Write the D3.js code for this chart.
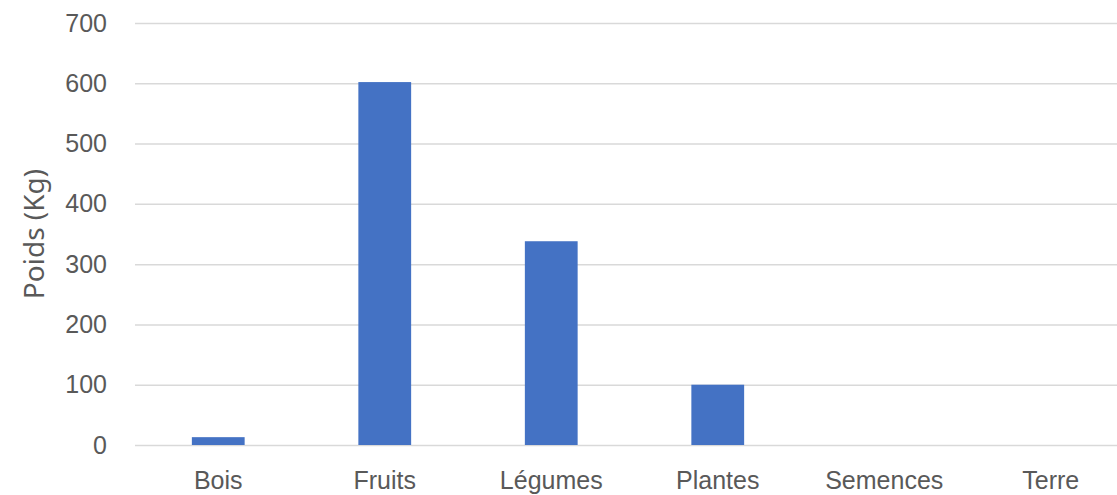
<!DOCTYPE html>
<html>
<head>
<meta charset="utf-8">
<script src="https://cdn.jsdelivr.net/npm/d3@7"></script>
<style>
  body { margin: 0; background: #fff; }
  svg { display: block; font-family: "Noto Sans", "Open Sans", sans-serif; }
</style>
</head>
<body>
<svg id="chart" width="1117" height="495"></svg>
<script>
const categories = ["Bois", "Fruits", "Légumes", "Plantes", "Semences", "Terre"];
const weights = [13, 602, 338, 100, 0, 0];
const yTicks = [0, 100, 200, 300, 400, 500, 600, 700];
const yLabel = "Poids (Kg)";

const svg = d3.select("#chart");
const width = 1117, height = 495;
const margin = { top: 23, right: -17, bottom: 50, left: 135 };

const x = d3.scaleBand()
  .domain(categories)
  .range([margin.left, width - margin.right])
  .paddingInner(0.683)
  .paddingOuter(0.3415);

const y = d3.scaleLinear()
  .domain([0, 700])
  .range([height - margin.bottom, margin.top]);

// gridlines
svg.append("g")
  .attr("transform", `translate(${margin.left},0)`)
  .call(d3.axisLeft(y).tickValues(yTicks).tickSize(-(width - margin.left)).tickFormat(""))
  .call(g => g.select(".domain").remove())
  .call(g => g.selectAll(".tick line").attr("stroke", "#d9d9d9").attr("stroke-width", 1.5));

// y tick labels
svg.append("g")
  .attr("transform", `translate(${margin.left},0)`)
  .call(d3.axisLeft(y).tickValues(yTicks).tickSize(0).tickPadding(28))
  .call(g => g.select(".domain").remove())
  .call(g => g.selectAll(".tick text")
    .attr("fill", "#595959")
    .style("font-size", "25px"));

// bars
svg.append("g")
  .attr("fill", "#4472c4")
  .selectAll("rect")
  .data(categories.map((c, i) => ({ c, v: weights[i] })))
  .join("rect")
  .attr("x", d => x(d.c))
  .attr("y", d => y(d.v))
  .attr("width", x.bandwidth())
  .attr("height", d => y(0) - y(d.v));

// x labels
svg.append("g")
  .attr("transform", `translate(0,${y(0)})`)
  .call(d3.axisBottom(x).tickSize(0).tickPadding(44))
  .call(g => g.select(".domain").remove())
  .call(g => g.selectAll(".tick text")
    .attr("dy", "0")
    .attr("fill", "#595959")
    .style("font-size", "25px"));

// y axis title
svg.append("text")
  .attr("transform", `translate(44,${(y(0) + y(700)) / 2}) rotate(-90)`)
  .attr("text-anchor", "middle")
  .attr("fill", "#595959")
  .style("font-size", "28px")
  .text(yLabel);
</script>
</body>
</html>
